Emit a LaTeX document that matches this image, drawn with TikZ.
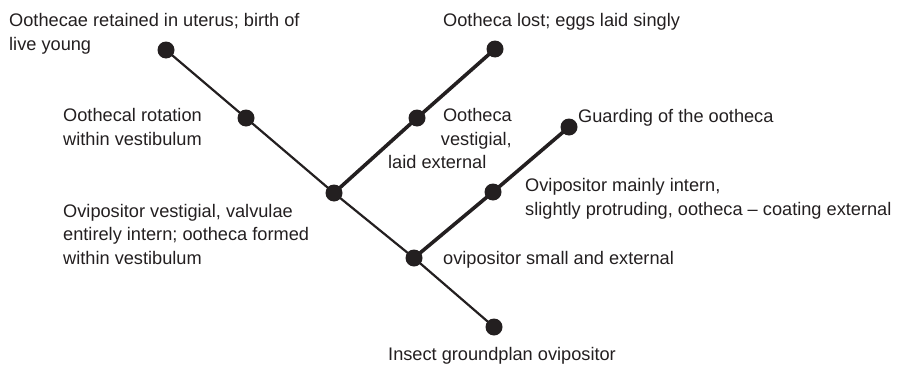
\documentclass[tikz,border=0pt]{standalone}
\usepackage{fontspec}
\setmainfont{Liberation Sans}
\definecolor{ink}{HTML}{231F20}
\begin{document}
\begin{tikzpicture}[x=1pt,y=-1pt,
  dot/.style={circle,fill=ink,inner sep=0pt,minimum size=17pt},
  thinline/.style={draw=ink,line width=2.2pt},
  thickline/.style={draw=ink,line width=3.6pt},
  lbl/.style={inner sep=0pt,text=ink,font=\fontsize{18.2}{23.5}\selectfont,align=left,anchor=base west}]
\useasboundingbox (0,0) rectangle (899,364);

% branching points
\node[dot] (tl)    at (166,50)  {};
\node[dot] (rot)   at (246,118) {};
\node[dot] (a)     at (334,193) {};
\node[dot] (vest)  at (417,118) {};
\node[dot] (lost)  at (495,49)  {};
\node[dot] (b)     at (414,258) {};
\node[dot] (mint)  at (493,192) {};
\node[dot] (guard) at (569,127) {};
\node[dot] (root)  at (494,327) {};

% main stem
\draw[thinline] (tl.center) -- (rot.center) -- (a.center) -- (b.center) -- (root.center);
% side branches
\draw[thickline] (a.center) -- (vest.center) -- (lost.center);
\draw[thickline] (b.center) -- (mint.center) -- (guard.center);

% character states (multi-line labels are placed by their last baseline)
\node[lbl] (t1) at (9,50) {Oothecae retained in uterus; birth of\\live young};
\node[lbl] (t2) at (63,145) {Oothecal rotation\\within vestibulum};
\node[lbl] (t3) at (443,26) {Ootheca lost; eggs laid singly};
\node[lbl,align=right,anchor=base east] (t4) at (512,145) {Ootheca\\vestigial,};
\node[lbl] (t4b) at (388,168) {laid external};
\node[lbl] (t5) at (578,122) {Guarding of the ootheca};
\node[lbl] (t6) at (525,215) {Ovipositor mainly intern,\\slightly protruding, ootheca -- coating external};
\node[lbl] (t7) at (63,264) {Ovipositor vestigial, valvulae\\entirely intern; ootheca formed\\within vestibulum};
\node[lbl] (t8) at (443,264) {ovipositor small and external};
\node[lbl] (t9) at (388,360) {Insect groundplan ovipositor};
\end{tikzpicture}
\end{document}
